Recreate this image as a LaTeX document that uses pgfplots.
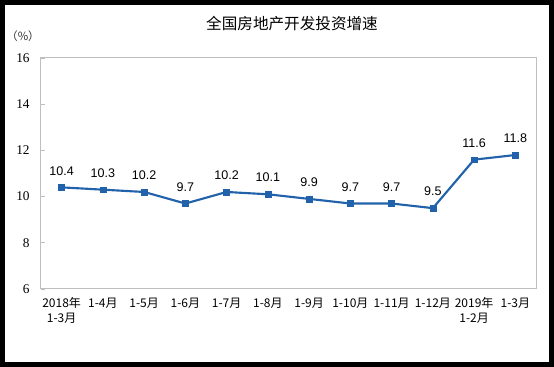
\documentclass[border=0pt]{standalone}
\usepackage{pgfplots}
\pgfplotsset{compat=1.18}
\usepackage{fontspec}
\setmainfont{Liberation Serif}
\newfontfamily\cjk{Noto Sans CJK SC}
\newfontfamily\arial{Liberation Sans}
\definecolor{lineblue}{HTML}{2162AB}
\definecolor{framegray}{HTML}{BFBFBF}
\begin{document}
\begin{tikzpicture}
\begin{axis}[
  at={(30.75pt,58.5pt)}, anchor=south west,
  scale only axis, width=371.25pt, height=173.25pt,
  xmin=-0.5, xmax=11.5, ymin=6, ymax=16,
  ytick={6,8,...,16},
  xtick={0,...,11},
  xticklabels={{2018年\\1-3月},1-4月,1-5月,1-6月,1-7月,1-8月,1-9月,1-10月,1-11月,1-12月,{2019年\\1-2月},1-3月},
  xticklabel style={font=\cjk\fontsize{9}{11}\selectfont, align=center, yshift=-3pt},
  yticklabel style={font=\fontsize{10}{11}\selectfont, xshift=-5pt},
  /pgf/number format/assume math mode=true,
  x tick style={draw=none},
  extra x ticks={0.5,1.5,...,10.5},
  extra x tick labels={},
  extra x tick style={tick style={draw=framegray, line width=0.6pt}, major tick length=4pt},
  y tick style={draw=framegray, line width=0.6pt},
  major tick length=3pt,
  tick pos=left,
  tick align=inside,
  axis line style={draw=framegray, line width=0.75pt},
  clip=false,
  nodes near coords={\pgfmathprintnumber[fixed,fixed zerofill,precision=1]{\pgfplotspointmeta}},
  every node near coord/.append style={font=\arial\fontsize{9.4}{11}\selectfont, text=black, anchor=south, inner sep=1pt, yshift=8pt},
]
\addplot[color=lineblue, line width=1.6pt, mark=square*, mark size=2.2pt, mark options={fill=lineblue, draw=lineblue, line width=0.3pt}]
 coordinates {(0,10.4) (1,10.3) (2,10.2) (3,9.7) (4,10.2) (5,10.1) (6,9.9) (7,9.7) (8,9.7) (9,9.5) (10,11.6) (11,11.8)};
\end{axis}
\node[font=\cjk\fontsize{11.7}{13}\selectfont] at (219pt,257.25pt) {全国房地产开发投资增速};
\node[font=\cjk\fontsize{8.5}{10}\selectfont, text=black!80] at (17.25pt,248.25pt) {（\%）};
\draw[line width=3.5pt] (1.75pt,1.75pt) rectangle (413.75pt,273.5pt);
\pgfresetboundingbox
\useasboundingbox (0,0) rectangle (415.5pt,275.25pt);
\end{tikzpicture}
\end{document}
